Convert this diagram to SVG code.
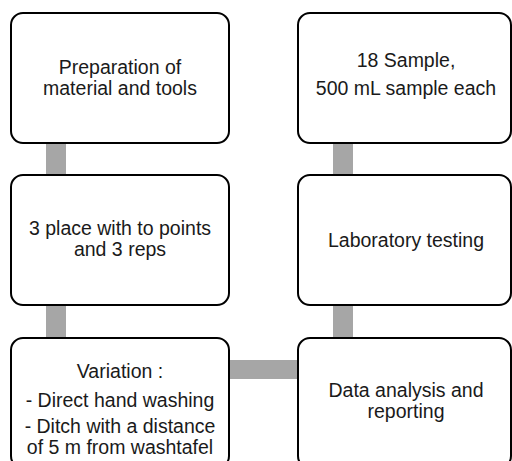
<svg xmlns="http://www.w3.org/2000/svg" width="512" height="461" viewBox="0 0 512 461">
<style>
.box{fill:#fff;stroke:#000;stroke-width:2}
.conn{fill:#a6a6a6}
text{font-family:"Liberation Sans",Arial,sans-serif;font-size:19.5px;fill:#1a1a1a;text-anchor:middle}
</style>
<rect width="512" height="461" fill="#fff"/>
<g id="connectors">
<rect class="conn" x="46" y="142" width="20" height="34"/>
<rect class="conn" x="46" y="304" width="20" height="35"/>
<rect class="conn" x="333" y="142" width="20" height="34"/>
<rect class="conn" x="333" y="304" width="20" height="35"/>
<rect class="conn" x="228" y="360" width="71" height="19"/>
</g>
<g id="n1">
<rect class="box" x="11" y="13" width="218" height="130" rx="12"/>
<text x="120" y="74">Preparation of</text>
<text x="120" y="95">material and tools</text>
</g>
<g id="n2">
<rect class="box" x="11" y="175" width="218" height="130" rx="12"/>
<text x="120" y="235">3 place with to points</text>
<text x="120" y="256">and 3 reps</text>
</g>
<g id="n3">
<rect class="box" x="11" y="338" width="218" height="130" rx="12"/>
<text x="120" y="378">Variation :</text>
<text x="120" y="407">- Direct hand washing</text>
<text x="120" y="433">- Ditch with a distance</text>
<text x="120" y="454">of 5 m from washtafel</text>
</g>
<g id="n4">
<rect class="box" x="298" y="13" width="213" height="130" rx="12"/>
<text x="406" y="67">18 Sample,</text>
<text x="406" y="95">500 mL sample each</text>
</g>
<g id="n5">
<rect class="box" x="298" y="175" width="213" height="130" rx="12"/>
<text x="406" y="247">Laboratory testing</text>
</g>
<g id="n6">
<rect class="box" x="298" y="338" width="213" height="130" rx="12"/>
<text x="406" y="397">Data analysis and</text>
<text x="406" y="418">reporting</text>
</g>
</svg>
